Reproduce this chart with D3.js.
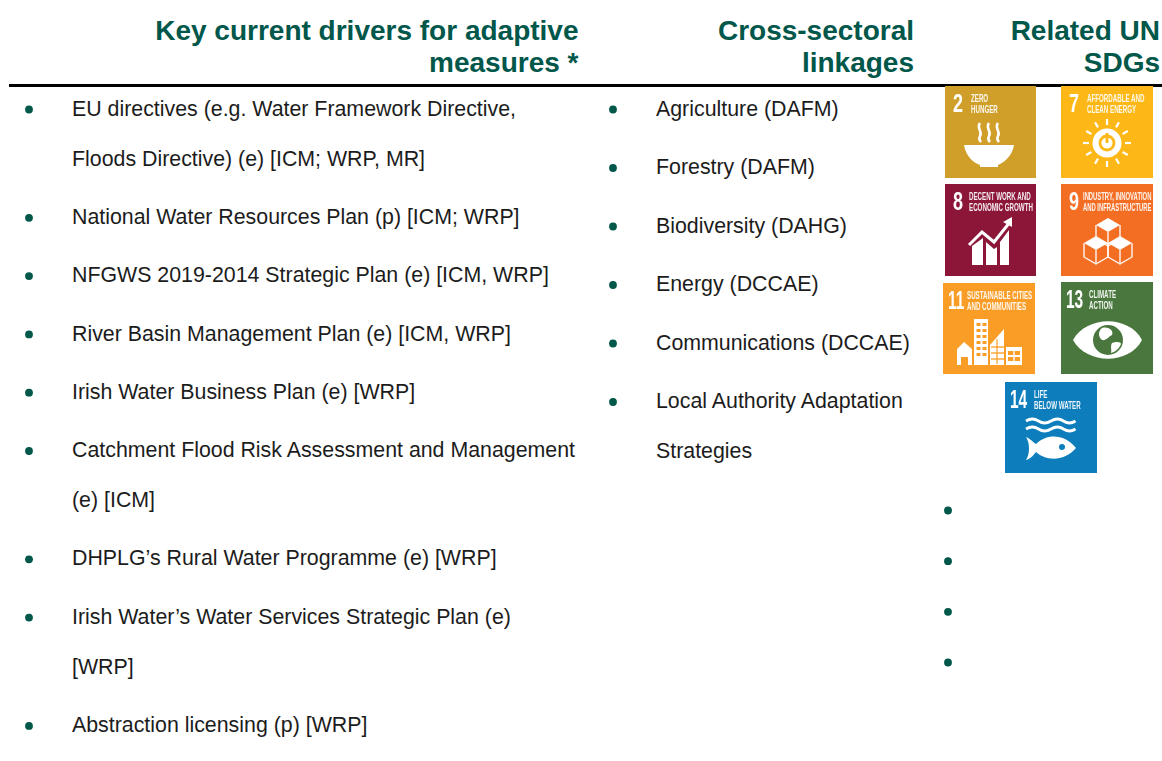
<!DOCTYPE html>
<html><head><meta charset="utf-8">
<style>html,body{margin:0;padding:0;background:#fff;overflow:hidden}svg{display:block}text{font-family:"Liberation Sans",Arial,sans-serif}</style>
<script src="https://cdnjs.cloudflare.com/ajax/libs/d3/7.8.5/d3.min.js"></script>
</head><body><svg id="c" width="1162" height="761"></svg>
<script>
const headers = [
  ["Key current drivers for adaptive", "measures *"],
  ["Cross-sectoral", "linkages"],
  ["Related UN", "SDGs"]
];
const drivers = [
  ["EU directives (e.g. Water Framework Directive,", "Floods Directive) (e) [ICM; WRP, MR]"],
  ["National Water Resources Plan (p) [ICM; WRP]"],
  ["NFGWS 2019-2014 Strategic Plan (e) [ICM, WRP]"],
  ["River Basin Management Plan (e) [ICM, WRP]"],
  ["Irish Water Business Plan (e) [WRP]"],
  ["Catchment Flood Risk Assessment and Management", "(e) [ICM]"],
  ["DHPLG\u2019s Rural Water Programme (e) [WRP]"],
  ["Irish Water\u2019s Water Services Strategic Plan (e)", "[WRP]"],
  ["Abstraction licensing (p) [WRP]"]
];
const linkages = [
  ["Agriculture (DAFM)"],
  ["Forestry (DAFM)"],
  ["Biodiversity (DAHG)"],
  ["Energy (DCCAE)"],
  ["Communications (DCCAE)"],
  ["Local Authority Adaptation", "Strategies"]
];
const emptyBullets = [0, 1, 2, 3];
const goalNumbers = ["2", "7", "8", "9", "11", "13", "14"];
const goalLabels = [
  ["ZERO", "HUNGER"],
  ["AFFORDABLE AND", "CLEAN ENERGY"],
  ["DECENT WORK AND", "ECONOMIC GROWTH"],
  ["INDUSTRY, INNOVATION", "AND INFRASTRUCTURE"],
  ["SUSTAINABLE CITIES", "AND COMMUNITIES"],
  ["CLIMATE", "ACTION"],
  ["LIFE", "BELOW WATER"]
];
const goalColors = ["#cf9f2a", "#fdb713", "#8b1538", "#f36e24", "#f99d26", "#48773c", "#0a7dbb"];

const svg = d3.select("#c");
svg.append("defs").append("filter").attr("id", "soft")
  .append("feGaussianBlur").attr("stdDeviation", 0.35);
const GREEN = "#00574a", INK = "#1c1c1c";
const L = {
  headRight: [578.5, 914, 1160], headY: [40, 72], headSize: 28,
  rule: {x1: 9, x2: 1162, y: 85.5, w: 3},
  bulletX: [29, 613, 948], textX: [72, 656],
  listTop: 108, lineGap: 50, itemGap: [58.3, 58.5], size: 21.35,
  bulletScale: d3.scaleLinear().domain([0, 3]).range([510.5, 662.5]),
  tiles: [[945,86,91,92],[1061,86,92,92],[945,184,91,92],[1061,184,92,92],[943,283,92,91],[1061,282,92,92],[1005,382,92,91]]
};

headers.forEach((h, i) => {
  svg.append("g").selectAll("text").data(h).join("text")
    .attr("x", L.headRight[i]).attr("y", (d, j) => L.headY[j])
    .attr("text-anchor", "end").attr("font-weight", 700)
    .attr("font-size", L.headSize).attr("fill", GREEN).text(d => d);
});
svg.append("line").attr("x1", L.rule.x1).attr("x2", L.rule.x2).attr("y1", L.rule.y).attr("y2", L.rule.y)
  .attr("stroke", "#000").attr("stroke-width", L.rule.w);

function list(items, col) {
  let y = L.listTop;
  items.forEach(lines => {
    svg.append("circle").attr("cx", L.bulletX[col]).attr("cy", y + 1.5).attr("r", 3.9).attr("fill", GREEN);
    lines.forEach((t, j) => {
      svg.append("text").attr("x", L.textX[col]).attr("y", y + j * L.lineGap + 7.6)
        .attr("font-size", L.size).attr("fill", INK).text(t);
    });
    y += (lines.length - 1) * L.lineGap + L.itemGap[col];
  });
}
list(drivers, 0);
list(linkages, 1);
svg.append("g").selectAll("circle").data(emptyBullets).join("circle")
  .attr("cx", L.bulletX[2]).attr("cy", d => L.bulletScale(d)).attr("r", 3.9).attr("fill", GREEN);

const W = "#fff";
const glyphs = [
  g => {
    g.append("path").attr("d", "M19 59H69C67 71 58 77 53 79V81H35V79C29 77 21 71 19 59Z").attr("fill", W);
    [35, 44, 53].forEach(x => g.append("path")
      .attr("d", `M${x} 37c-4 5 3 9 0 13c-1 2 -1 4 1 6`).attr("fill", "none").attr("stroke", W).attr("stroke-width", 2.6));
  },
  g => {
    const c = [46, 57];
    d3.range(12).forEach(i => {
      const a = i * Math.PI / 6;
      g.append("line").attr("x1", c[0] + 18 * Math.cos(a)).attr("y1", c[1] + 18 * Math.sin(a))
        .attr("x2", c[0] + 24 * Math.cos(a)).attr("y2", c[1] + 24 * Math.sin(a))
        .attr("stroke", W).attr("stroke-width", 2.2);
    });
    g.append("circle").attr("cx", c[0]).attr("cy", c[1]).attr("r", 14.5).attr("fill", W);
    g.append("circle").attr("cx", c[0]).attr("cy", c[1]).attr("r", 7).attr("fill", "none").attr("stroke", goalColors[1]).attr("stroke-width", 2.8);
    g.append("line").attr("x1", c[0]).attr("x2", c[0]).attr("y1", c[1] - 10).attr("y2", c[1]).attr("stroke", goalColors[1]).attr("stroke-width", 2.8);
  },
  g => {
    g.append("path").attr("d", "M27 81V62L38 54V81ZM41 81V58L49 65L52 63V81ZM55 81V58L64 46V81Z").attr("fill", W);
    g.append("path").attr("d", "M24 61L37 48L49 58L65 38").attr("fill", "none").attr("stroke", W).attr("stroke-width", 3);
    g.append("path").attr("d", "M58 38L67 33L67 43Z").attr("fill", W);
  },
  g => {
    const cube = (x, y) => {
      g.append("path").attr("d", `M${x} ${y}l12 -7l12 7l-12 7Z`).attr("fill", W);
      g.append("path").attr("d", `M${x} ${y}v14l12 7l12 -7v-14M${x + 12} ${y + 7}v14`).attr("fill", "none").attr("stroke", W).attr("stroke-width", 1.3);
    };
    cube(35, 41); cube(23, 59); cube(47, 59);
  },
  g => {
    const c = goalColors[4];
    g.append("path").attr("d", "M14 82V66L21 59L29 66V82H25V74H18V82Z").attr("fill", W);
    g.append("path").attr("fill", W).attr("d", "M31 36H45V82H31Z M47 82V62L61 46V82Z M63 64H79V82H63Z");
    [42, 48, 54, 60, 66, 72].forEach(y => g.append("rect").attr("x", 33.5).attr("y", y - 2).attr("width", 4).attr("height", 3).attr("fill", c));
    [42, 48, 54, 60, 66, 72].forEach(y => g.append("rect").attr("x", 39.5).attr("y", y - 2).attr("width", 4).attr("height", 3).attr("fill", c));
    [64, 70, 76].forEach(y => g.append("line").attr("x1", 48).attr("x2", 61).attr("y1", y).attr("y2", y).attr("stroke", c).attr("stroke-width", 1.3));
    g.append("line").attr("x1", 54).attr("x2", 54).attr("y1", 56).attr("y2", 81).attr("stroke", c).attr("stroke-width", 1.2);
    [68, 74].forEach(y => g.append("rect").attr("x", 65).attr("y", y).attr("width", 12).attr("height", 4).attr("fill", c));
    g.append("line").attr("x1", 71).attr("x2", 71).attr("y1", 67).attr("y2", 80).attr("stroke", W).attr("stroke-width", 1.4);
  },
  g => {
    g.append("path").attr("d", "M12 58C26 33 68 33 81 58C68 83 26 83 12 58Z").attr("fill", W);
    g.append("circle").attr("cx", 47).attr("cy", 58).attr("r", 15).attr("fill", goalColors[5]);
    g.append("path").attr("d", "M41 46C48 44 53 49 51 53C47 55 45 59 41 58C37 55 37 49 41 46ZM51 61C56 59 60 60 60 62C58 67 54 70 50 71C51 68 49 64 51 61Z").attr("fill", W);
  },
  g => {
    ["M21 39", "M21 47"].forEach(m => g.append("path")
      .attr("d", `${m}q6.5 -4 12.5 0t12.5 0t12.5 0t12 0`).attr("fill", "none").attr("stroke", W).attr("stroke-width", 2.8));
    g.append("path").attr("d", "M21 55C27 58 29 61 31 62C42 51 60 52 71 66C60 79 42 80 31 70C29 72 26 77 21 78C25 72 25 61 21 55Z").attr("fill", W);
    g.append("circle").attr("cx", 57).attr("cy", 65).attr("r", 3).attr("fill", goalColors[6]);
  }
];
const labelX = [26, 26, 24, 22, 24, 28, 29];
const labelStretch = [0.59, 0.59, 0.59, 0.56, 0.59, 0.59, 0.59];
goalNumbers.forEach((n, i) => {
  const [x, y, w, h] = L.tiles[i];
  const g = svg.append("g").attr("transform", `translate(${x},${y})`).attr("filter", "url(#soft)");
  g.append("rect").attr("width", w).attr("height", h).attr("fill", goalColors[i]);
  g.append("text").attr("transform", `translate(${n.length > 1 ? 5 : 8},26) scale(${n.length > 1 ? 0.62 : 0.72},1)`)
    .attr("font-size", 25).attr("font-weight", 700).attr("fill", W).text(n);
  goalLabels[i].forEach((t, j) => {
    g.append("text")
      .attr("transform", `translate(${labelX[i]},${16 + j * 10.5}) scale(${labelStretch[i]},1)`)
      .attr("font-size", 10.5).attr("font-weight", 700).attr("fill", W).attr("fill-opacity", 0.92).text(t);
  });
  glyphs[i](g);
});
</script></body></html>
